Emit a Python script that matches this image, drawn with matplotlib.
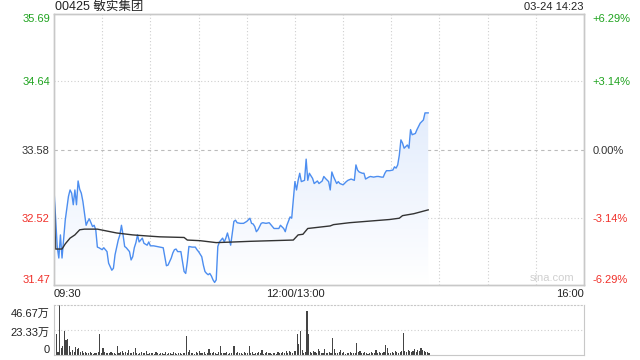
import numpy as np
import matplotlib
matplotlib.use('Agg')
import matplotlib.pyplot as plt
import matplotlib.transforms as mtransforms
from matplotlib.colors import LinearSegmentedColormap

plt.rcParams['font.family'] = ['Liberation Sans', 'Noto Sans CJK SC']

# minutes since 09:30, lunch break removed (12:00 and 13:00 share t=150)
price_min = [0, 2, 3, 4, 5, 7, 9, 10, 11, 12, 13, 14, 15, 16, 17, 18, 19, 20, 21, 22,
             23, 24, 25, 26, 27, 28, 30, 31, 33, 34, 36, 37, 38, 40, 41, 42, 43, 44, 45, 47,
             48, 49, 50, 51, 52, 53, 55, 56, 58, 59, 60, 62, 64, 66, 68, 69, 70, 71, 73, 74,
             75, 76, 77, 79, 80, 81, 82, 83, 84, 86, 88, 89, 90, 92, 93, 94, 95, 96, 97, 98,
             99, 100, 101, 102, 103, 104, 105, 106, 107, 108, 110, 111, 112, 113, 114, 116, 118, 120, 122, 123,
             124, 125, 126, 127, 129, 130, 132, 134, 136, 137, 139, 140, 141, 143, 144, 145, 147, 148, 150, 151,
             152, 153, 154, 156, 157, 158, 159, 161, 162, 164, 165, 167, 168, 169, 171, 172, 173, 174, 176, 177,
             178, 180, 182, 183, 185, 187, 188, 189, 190, 192, 193, 194, 196, 197, 199, 201, 202, 204, 205, 206,
             207, 209, 211, 212, 213, 214, 215, 216, 217, 218, 220, 221, 222, 223, 225, 226, 228, 230, 231, 233]
price = [32.95, 32.07, 31.89, 32.25, 31.89, 32.48, 32.85, 32.95, 32.90, 32.72, 32.95, 32.72, 33.09, 32.96, 32.90, 32.77, 32.59, 32.40, 32.46, 32.50,
         32.44, 32.38, 32.40, 32.33, 32.06, 32.05, 32.02, 32.05, 31.99, 31.81, 31.70, 31.73, 31.94, 32.17, 32.25, 32.40, 32.25, 32.07, 32.05, 31.99,
         31.86, 31.91, 32.05, 32.13, 32.25, 32.14, 32.20, 32.12, 32.09, 32.14, 32.08, 32.08, 32.07, 32.06, 32.05, 31.91, 31.77, 31.78, 31.89, 31.97,
         32.02, 32.03, 31.99, 31.99, 31.83, 31.68, 31.65, 31.83, 32.07, 32.06, 32.06, 32.02, 31.99, 31.91, 31.78, 31.68, 31.65, 31.63, 31.65, 31.61,
         31.55, 31.51, 31.55, 32.07, 32.14, 32.17, 32.20, 32.14, 32.20, 32.28, 32.09, 32.28, 32.46, 32.48, 32.44, 32.43, 32.43, 32.46, 32.51, 32.43,
         32.42, 32.38, 32.30, 32.33, 32.43, 32.44, 32.43, 32.44, 32.38, 32.35, 32.35, 32.35, 32.40, 32.35, 32.30, 32.40, 32.53, 32.51, 33.08, 32.95,
         33.10, 33.21, 33.08, 33.10, 33.43, 33.10, 33.21, 33.13, 33.05, 33.09, 33.05, 33.09, 33.16, 33.13, 33.08, 32.95, 33.23, 33.16, 33.05, 33.08,
         33.05, 33.03, 33.08, 33.10, 33.12, 33.10, 33.34, 33.26, 33.23, 33.21, 33.21, 33.12, 33.15, 33.16, 33.15, 33.16, 33.16, 33.15, 33.15, 33.21,
         33.25, 33.25, 33.26, 33.31, 33.29, 33.34, 33.49, 33.73, 33.68, 33.60, 33.65, 33.60, 33.89, 33.81, 33.83, 33.89, 33.99, 34.04, 34.15, 34.15]

avg_min = [0, 1, 5, 7, 10, 13, 16, 19, 27, 31, 39, 49, 60, 66, 81, 83, 91, 101, 112, 122,
           149, 152, 155, 158, 172, 174, 184, 199, 209, 215, 217, 224, 233]
avg = [32.95, 32.03, 32.03, 32.11, 32.20, 32.25, 32.33, 32.34, 32.34, 32.32, 32.28, 32.25, 32.23, 32.22, 32.21, 32.17, 32.16, 32.13, 32.14, 32.15,
       32.17, 32.25, 32.26, 32.35, 32.39, 32.41, 32.44, 32.47, 32.49, 32.51, 32.55, 32.58, 32.64]

# volume per minute, unit: 万
volume = [10, 19.7, 3, 46.7, 6.7, 8.3, 22, 14, 15, 8, 3, 5, 3, 7.5, 5.5, 7, 3, 4, 2, 3,
          2, 1.5, 3, 2, 1, 2, 1.5, 3, 20, 2, 7, 3, 2, 1.5, 2, 3, 1.5, 2, 1, 8,
          2, 3, 4, 2, 3, 2, 5, 2, 1.5, 3, 7, 2, 1, 2, 3, 1.5, 2, 4, 1, 2,
          1.5, 2, 1, 3, 2, 1, 1.5, 2, 1, 3, 1, 2, 1.5, 1, 3, 2, 1, 1.5, 2, 1,
          1.5, 2, 18, 3, 5, 1.5, 2, 1, 3, 2, 4, 1.5, 2, 3, 1, 2, 5.5, 2, 1.5, 3,
          2, 1, 3, 8, 2, 1.5, 2, 3, 1, 2, 1.5, 8, 8.5, 2, 3, 1.5, 2, 1, 3, 2,
          1.5, 8, 2, 3, 1, 2, 1.5, 3, 2, 5, 1, 2, 3, 1.5, 2, 1, 2, 1.5, 1, 3,
          2, 1.5, 3, 2, 4, 2, 4, 3, 2, 4,
          4, 20, 10, 22, 5, 2, 3, 41, 20, 3, 2, 4, 3, 2, 5.5, 4, 2, 1.5, 5.5, 2,
          1.5, 3, 2, 16, 6, 2, 1.5, 3, 5, 2, 3, 1, 2, 1.5, 3, 2, 1.5, 2, 10.8, 3,
          4, 2, 1.5, 3, 2, 1, 2, 3, 1.5, 2, 5, 2, 3, 1.5, 2, 3, 9, 7, 2, 1.5,
          3, 2, 4, 3, 2, 3, 4, 20.6, 4, 3, 5, 4, 3, 4, 6, 3, 5, 4, 7, 5,
          4, 3, 3, 2]

price_ticks = [31.47, 32.52, 33.58, 34.64, 35.69]
pct_labels = ['-6.29%', '-3.14%', '0.00%', '+3.14%', '+6.29%']
vol_ticks = [0, 23.33, 46.67]
vol_labels = ['0', '23.33万', '46.67万']

green, red, dark = '#1fa31f', '#f0302a', '#333333'
tick_colors = [red, red, dark, green, green]
edge = '#c8c8c8'

fig = plt.figure(figsize=(6.4, 3.6), dpi=100)
ax = fig.add_axes([54 / 640, 75 / 360, 530 / 640, 271 / 360])
vax = fig.add_axes([54 / 640, 5 / 360, 530 / 640, 50 / 360])

ax.set_xlim(0, 330)
ax.set_ylim(price_ticks[0], price_ticks[-1])

for t in range(30, 330, 30):
    ax.axvline(t, color='#cfcfcf', lw=0.8, ls=(0, (1, 2)), zorder=0)
for v in [32.52, 34.64]:
    ax.axhline(v, color='#cfcfcf', lw=0.8, ls=(0, (1, 2)), zorder=0)
ax.axhline(33.58, color='#bbbbbb', lw=0.8, ls=(0, (3, 3)), zorder=0)

# gradient fill under the price line
poly = ax.fill_between(price_min, price, price_ticks[0], facecolor='none', edgecolor='none')
cmap = LinearSegmentedColormap.from_list('fade', ['#ffffff', '#d3e2fb'])
grad = np.linspace(0, 1, 256).reshape(-1, 1)
im = ax.imshow(grad, extent=[0, 330, price_ticks[0], price_ticks[-1]], origin='lower',
               aspect='auto', cmap=cmap, zorder=1)
im.set_clip_path(poly.get_paths()[0], transform=ax.transData)

ax.plot(price_min, price, color='#4d8ef0', lw=1, zorder=3)
ax.plot(avg_min, avg, color='#333333', lw=1, zorder=3)

ax.set_xticks([])
ax.set_yticks(price_ticks)
ax.set_yticklabels([f'{v:.2f}' for v in price_ticks])
ax.tick_params(axis='y', length=0, pad=3, labelsize=8)
for lab, c in zip(ax.get_yticklabels(), tick_colors):
    lab.set_color(c)
ax.get_yticklabels()[0].set_va('bottom')
ax.get_yticklabels()[-1].set_va('top')

rax = ax.twinx()
rax.set_ylim(ax.get_ylim())
rax.set_yticks(price_ticks)
rax.set_yticklabels(pct_labels)
rax.tick_params(axis='y', length=0, pad=6, labelsize=8)
for lab, c in zip(rax.get_yticklabels(), tick_colors):
    lab.set_color(c)
rax.get_yticklabels()[0].set_va('bottom')
rax.get_yticklabels()[-1].set_va('top')

for a in (ax, rax):
    for s in a.spines.values():
        s.set_color(edge)
        s.set_linewidth(1)

for t, lab, ha in [(0, '09:30', 'left'), (150, '12:00/13:00', 'center'), (330, '16:00', 'right')]:
    ax.annotate(lab, xy=(t, 0), xycoords=('data', 'axes fraction'), xytext=(0, -3),
                textcoords='offset points', ha=ha, va='top', fontsize=8, color='#222222')

ax.text(0.94, 0.024, 'sina.com', transform=ax.transAxes, ha='center', va='center',
        fontsize=8, color='#d0d0d0')

# volume panel
vax.bar(np.arange(len(volume)) + 0.5, volume, width=0.7, color='#444444')
vax.set_xlim(0, 330)
vax.set_ylim(0, 46.67)
vax.axhline(23.33, color='#cfcfcf', lw=0.8, ls=(0, (1, 2)), zorder=0)
vax.set_xticks([])
vax.set_yticks(vol_ticks)
vax.set_yticklabels(vol_labels)
vax.tick_params(axis='y', length=0, pad=3, labelsize=8, labelcolor='#222222')
vlabs = vax.get_yticklabels()
vlabs[0].set_va('bottom')
vlabs[1].set_transform(vlabs[1].get_transform() +
                       mtransforms.ScaledTranslation(0, -1.5 / 72, fig.dpi_scale_trans))
vlabs[2].set_va('top')
vlabs[2].set_transform(vlabs[2].get_transform() +
                       mtransforms.ScaledTranslation(0, -3 / 72, fig.dpi_scale_trans))
for s in vax.spines.values():
    s.set_color(edge)
vax.spines['top'].set_linestyle((0, (1, 2)))

fig.text(55 / 640, 1 - 7 / 360, '00425 敏实集团', ha='left', va='center', fontsize=9, color='#222222')
fig.text(584 / 640, 1 - 7 / 360, '03-24 14:23', ha='right', va='center', fontsize=8, color='#222222')

fig.savefig('out.png', dpi=100)
